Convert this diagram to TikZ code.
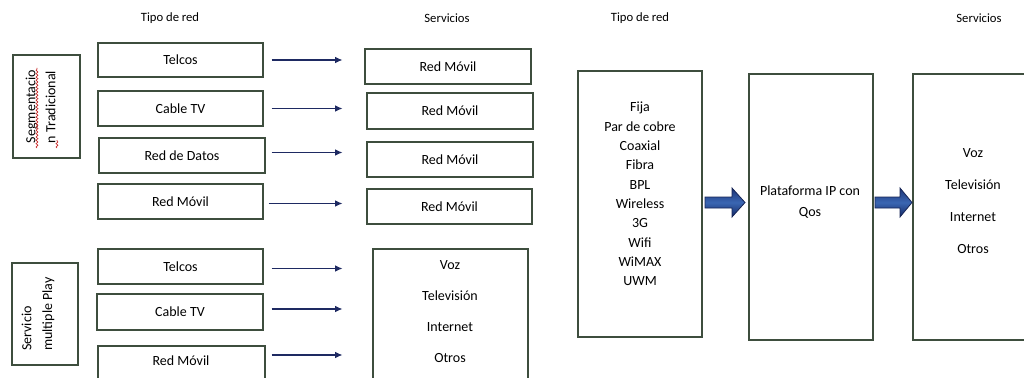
\documentclass[tikz,border=0pt]{standalone}
\usepackage{fontspec}
\setmainfont{Carlito}
\usetikzlibrary{fit,calc,arrows.meta,decorations.pathmorphing}
\definecolor{boxline}{RGB}{62,78,62}
\definecolor{navy}{RGB}{30,42,98}
\definecolor{barrowline}{RGB}{22,36,85}
\definecolor{barrowtop}{RGB}{28,52,118}
\definecolor{barrowmid}{RGB}{58,102,178}
\definecolor{barrowbot}{RGB}{20,40,100}
\definecolor{spell}{RGB}{200,40,40}
\begin{document}
\begin{tikzpicture}[x=0.75pt,y=-0.75pt,
  box/.style={draw=boxline, line width=0.8pt, inner sep=0pt, fill=white},
  lbl/.style={font=\fontsize{10.5}{12.6}\selectfont, text=black},
  hdr/.style={font=\fontsize{9.5}{11}\selectfont, text=black},
  thinarrow/.style={draw=navy, line width=0.9pt, -{Latex[length=5.5pt,width=5pt]}},
  blockarrow/.style={draw=barrowline, line width=0.6pt, top color=barrowtop, bottom color=barrowbot, middle color=barrowmid},
  wavy/.style={draw=spell, line width=0.5pt, decorate, decoration={snake, amplitude=0.7pt, segment length=2.5pt}}
]
\useasboundingbox (0,0) rectangle (1024,378);
\clip (0,0) rectangle (1024,378);

% headers
\node[hdr] (h1) at (170,18) {Tipo de red};
\node[hdr] (h2) at (447,18) {Servicios};
\node[hdr] (h3) at (640,18) {Tipo de red};
\node[hdr] (h4) at (979,18) {Servicios};

% left group boxes
\node[box, fit={(13,55) (80,158)}] (seg) {};
\node[lbl, rotate=90, align=left, font=\fontsize{10.5}{15}\selectfont] (segtxt) at ($(seg.center)+(-6,0)$) {Segmentacio\\n Tradicional};
\node[box, fit={(12,263) (78,365)}] (mult) {};
\node[lbl, rotate=90, align=left, font=\fontsize{10.5}{15.5}\selectfont] (multtxt) at ($(mult.center)+(-7,0)$) {Servicio\\multiple Play};

% spell-check underlines
\coordinate (w1a) at (37,148);
\coordinate (w1b) at (37,68);
\coordinate (w2a) at (57,148);
\coordinate (w2b) at (57,140);
\draw[wavy] (w1a) -- (w1b);
\draw[wavy] (w2a) -- (w2b);

% network type boxes (top)
\node[box, fit={(98,43) (263,77)}, label={[lbl]center:Telcos}] (t1) {};
\node[box, fit={(98,91) (263,126)}, label={[lbl]center:Cable TV}] (t2) {};
\node[box, fit={(99,138) (265,173)}, label={[lbl]center:Red de Datos}] (t3) {};
\node[box, fit={(98,184) (263,219)}, label={[lbl]center:Red Móvil}] (t4) {};

% service boxes (top)
\node[box, fit={(365,49) (531,84)}, label={[lbl]center:Red Móvil}] (s1) {};
\node[box, fit={(367,93) (533,129)}, label={[lbl]center:Red Móvil}] (s2) {};
\node[box, fit={(367,142) (533,177)}, label={[lbl]center:Red Móvil}] (s3) {};
\node[box, fit={(367,189) (532,224)}, label={[lbl]center:Red Móvil}] (s4) {};

% network type boxes (bottom)
\node[box, fit={(98,249) (263,284)}, label={[lbl]center:Telcos}] (b1) {};
\node[box, fit={(97,294) (263,330)}, label={[lbl]center:Cable TV}] (b2) {};
\node[box, fit={(98,346) (265,382)}] (b3) {};
\node[lbl] (b3txt) at (181,361) {Red Móvil};

% service box (bottom)
\node[box, fit={(373,249) (528,385)}] (sb) {};
\node[lbl, align=center, font=\fontsize{10.5}{23.3}\selectfont] (sbtxt) at (450,311.5) {Voz\\Televisión\\Internet\\Otros};

% thin arrows
\draw[thinarrow] ($(t1.east)+(8,0)$) -- ($(t1.east -| s1.west)+(-22,0)$);
\draw[thinarrow] ($(t2.east)+(8,0)$) -- ($(t2.east -| s1.west)+(-22,0)$);
\draw[thinarrow] ($(t3.east)+(6,-3)$) -- ($(t3.east -| s1.west)+(-22,-3)$);
\draw[thinarrow] ($(t4.east)+(5,2)$) -- ($(t4.east -| s1.west)+(-22,2)$);
\draw[thinarrow] ($(b1.east)+(8,2)$) -- ($(b1.east -| s1.west)+(-22,2)$);
\draw[thinarrow] ($(b2.east)+(8,-3)$) -- ($(b2.east -| s1.west)+(-22,-3)$);
\draw[thinarrow] ($(b3.east)+(6,-9)$) -- ($(b3.east -| s1.west)+(-22,-9)$);

% right diagram
\node[box, fit={(578,71) (702,337)}] (fija) {};
\node[lbl, align=center, font=\fontsize{10.5}{14.5}\selectfont] (fijatxt) at (640,194) {Fija\\Par de cobre\\Coaxial\\Fibra\\BPL\\Wireless\\3G\\Wifi\\WiMAX\\UWM};
\node[box, fit={(749,74) (873,340)}] (plat) {};
\node[lbl, align=center, font=\fontsize{10.5}{16}\selectfont] (plattxt) at (810,202) {Plataforma IP con\\Qos};
\node[box, fit={(913,74) (1033,340)}] (serv) {};
\node[lbl, align=center, font=\fontsize{10.5}{24}\selectfont] (servtxt) at (973,201) {Voz\\Televisión\\Internet\\Otros};

% block arrows
\draw[blockarrow] (705,197) -- (732,197) -- (732,188) -- (745,202.5) -- (732,217) -- (732,208) -- (705,208) -- cycle;
\draw[blockarrow] (875,197) -- (900,197) -- (900,188) -- (912,202.5) -- (900,217) -- (900,208) -- (875,208) -- cycle;
\end{tikzpicture}
\end{document}
